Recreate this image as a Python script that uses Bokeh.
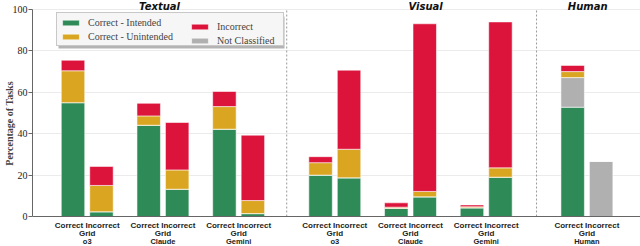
from bokeh.plotting import figure
from bokeh.models import ColumnDataSource, FixedTicker, Legend, LegendItem, Range1d, Span, BoxAnnotation
from bokeh.core.properties import value
from bokeh.embed import file_html
from bokeh.resources import INLINE

# ---------------- data ----------------
sections = ["Textual", "Visual", "Human"]
models = ["o3", "Claude", "Gemini", "o3", "Claude", "Gemini", "Human"]
group_section = [0, 0, 0, 1, 1, 1, 2]
grid_line1 = "Correct Incorrect"
grid_line2 = "Grid"

# bars in order: (model Correct grid, model Incorrect grid) per group
intended       = [55.0, 2.3, 44.1, 13.2, 42.2, 1.4, 20.0, 18.7, 4.0, 9.5, 4.2, 19.0, 52.8, 0.0]
unintended     = [15.4, 12.7, 4.5, 9.3, 10.9, 6.3, 6.0, 13.8, 0.5, 2.6, 0.5, 4.5, 2.9, 0.0]
incorrect      = [5.1, 9.2, 6.1, 22.9, 7.3, 31.6, 2.9, 38.2, 2.1, 81.0, 0.9, 70.5, 3.0, 0.0]
not_classified = [0.0] * 12 + [14.3, 26.7]
y_ticks = [0, 20, 40, 60, 80, 100]

# ---------------- layout constants ----------------
section_extra = [0.0, 0.27, 0.6]
title_shift = [-0.045, 0.2, 0.01]
bar_offset = 0.188
bar_width = 0.31
H, W = 246, 640
LEFT_PX = 32
FRAME_TOP_PX, ZERO_PX = 9, 216   # where 100 and 0 sit
PX = 100 / (ZERO_PX - FRAME_TOP_PX)   # data units per pixel (vertical)
X0, X1 = -0.723, 7.308
XPX = (X1 - X0) / (W - LEFT_PX)       # data units per pixel (horizontal)

group_x = [i + section_extra[s] for i, s in enumerate(group_section)]
bar_x = []
for g in group_x:
    bar_x += [g - bar_offset, g + bar_offset]

src = ColumnDataSource(dict(x=bar_x, intended=intended, unintended=unintended,
                            incorrect=incorrect, not_classified=not_classified))

GREEN, GOLD, RED, GRAY = "#2e8b57", "#daa520", "#dc143c", "#b0b0b0"

y0 = -(H - ZERO_PX) * PX
y1 = 100 + FRAME_TOP_PX * PX
p = figure(width=W, height=H, output_backend="svg", toolbar_location=None,
           x_range=Range1d(X0, X1), y_range=Range1d(y0, y1),
           min_border_left=LEFT_PX, min_border_right=0, min_border_top=0, min_border_bottom=0)
p.outline_line_color = None
p.xaxis.visible = False
p.xgrid.visible = False
p.ygrid.grid_line_color = "#ebebeb"
p.ygrid.ticker = FixedTicker(ticks=y_ticks)

stack_cols = ["intended", "not_classified", "unintended", "incorrect"]
rs = p.vbar_stack(stack_cols, x="x", width=bar_width, source=src,
                  color=[GREEN, GRAY, GOLD, RED], line_color="white", line_width=0.8,
                  line_alpha=0.7)

# baseline (x axis line)
p.add_layout(Span(location=0, dimension="width", line_color="#666666", line_width=1))

# section dividers
div_x = []
for i in range(1, len(group_x)):
    if group_section[i] != group_section[i - 1]:
        div_x.append((group_x[i] + group_x[i - 1]) / 2)
p.segment(x0=div_x, y0=[0] * len(div_x), x1=div_x, y1=[100] * len(div_x),
          line_color="#999999", line_dash="2 2", line_width=1)

# section titles
sec_x = []
for s in range(len(sections)):
    xs = [g for g, gs in zip(group_x, group_section) if gs == s]
    sec_x.append((min(xs) + max(xs)) / 2 + title_shift[s])
p.text(x=sec_x, y=[100 + 3.5 * PX] * len(sections), text=sections,
       text_font=value("DejaVu Sans"), text_font_style="bold italic",
       text_font_size="10px", text_align="center", text_baseline="middle",
       text_color="#111111")

# x labels under the baseline
n = len(group_x)
for txt, off_px, size in [([grid_line1] * n, 9.0, "8px"),
                          ([grid_line2] * n, 16.7, "8px"),
                          (models, 25.0, "7.5px")]:
    p.text(x=group_x, y=[-off_px * PX] * n, text=txt,
           text_font=value("Liberation Sans"), text_font_style="bold",
           text_font_size=size, text_align="center", text_baseline="middle",
           text_color="#222222")

# y axis
p.yaxis.ticker = FixedTicker(ticks=y_ticks)
p.yaxis.bounds = (0, 100)
p.yaxis.axis_label = "Percentage of Tasks"
p.yaxis.axis_label_text_font = "Liberation Serif"
p.yaxis.axis_label_text_font_style = "bold"
p.yaxis.axis_label_text_font_size = "10px"
p.yaxis.axis_label_standoff = -5
p.yaxis.major_label_text_font = "Liberation Serif"
p.yaxis.major_label_text_font_size = "10px"
p.yaxis.major_label_standoff = 1
p.yaxis.major_tick_out = 4
p.yaxis.major_tick_in = 0
p.yaxis.minor_tick_line_color = None
p.yaxis.minor_tick_out = 0
p.yaxis.axis_line_color = "#666666"
p.yaxis.major_tick_line_color = "#666666"
p.yaxis.major_label_text_color = "#222222"

# legend box geometry (pixels from frame's left / image top)
LEG_L, LEG_R, LEG_T, LEG_B = 24, 250, 14, 46
SHADOW = 2

# shadow behind the legend box
p.add_layout(BoxAnnotation(left=X0 + (LEG_L + SHADOW) * XPX, right=X0 + (LEG_R + SHADOW) * XPX,
                           top=y1 - (LEG_T + SHADOW) * PX, bottom=y1 - (LEG_B + SHADOW) * PX,
                           fill_color="#777777", fill_alpha=0.55, line_color=None))

# legend (two columns: two legends sharing one frame)
def style(lg):
    lg.label_text_font = "Liberation Serif"
    lg.label_text_font_size = "10px"
    lg.glyph_width = 21
    lg.glyph_height = 7
    lg.label_standoff = 7
    lg.padding = 3
    lg.spacing = 2
    lg.margin = 0
    lg.label_height = 12

leg_bottom = H - LEG_B
legA = Legend(items=[LegendItem(label="Correct - Intended", renderers=[rs[0]]),
                     LegendItem(label="Correct - Unintended", renderers=[rs[2]])],
              location=(LEG_L, leg_bottom))
style(legA)
legA.label_width = 192
legA.border_line_color = "#999999"
legA.background_fill_color = "#f6f6f6"
legA.background_fill_alpha = 1

legB = Legend(items=[LegendItem(label="Incorrect", renderers=[rs[3]]),
                     LegendItem(label="Not Classified", renderers=[rs[1]])],
              location=(157, leg_bottom))
style(legB)
legB.border_line_color = None
legB.background_fill_alpha = 0

p.add_layout(legA, "center")
p.add_layout(legB, "center")

open("out.html", "w").write(file_html(p, INLINE))
